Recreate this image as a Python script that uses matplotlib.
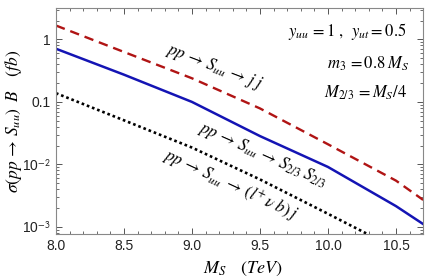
# Сечение рождения S_uu в зависимости от массы M_S
# python plot.py

import math
import matplotlib
matplotlib.use("Agg")
import matplotlib.pyplot as plt
from matplotlib.ticker import FixedLocator, LogLocator, FuncFormatter, NullFormatter

# ------------------------------------------
# Данные (сняты с картинки на глаз)
# ------------------------------------------
ms_jj = [8.0, 8.5, 9.0, 9.5, 10.0, 10.5, 10.7]
sigma_jj = [1.67, 0.63, 0.239, 0.0787, 0.021, 0.0055, 0.0027]

ms_s23 = [8.0, 8.5, 9.0, 9.5, 10.0, 10.5, 10.7]
sigma_s23 = [0.71, 0.273, 0.100, 0.0284, 0.0091, 0.00215, 0.00111]

ms_lvb = [8.0, 8.5, 9.0, 9.5, 10.0, 10.3]
sigma_lvb = [0.138, 0.0508, 0.0186, 0.00575, 0.00162, 0.00075]

x_ticks = [8.0, 8.5, 9.0, 9.5, 10.0, 10.5]
y_ticks = [1e-3, 1e-2, 0.1, 1]

plt.rcParams["mathtext.fontset"] = "stix"
plt.rcParams["font.family"] = ["Liberation Sans", "DejaVu Sans"]


def fmt_y(v, pos):
    if v >= 0.1:
        return "%g" % v
    exp = int(round(math.log10(v)))
    return "10$^{\\mathsf{%d}}$" % exp


def main():
    fig = plt.figure(figsize=(4.27, 2.80), dpi=100)
    ax = fig.add_axes([0.131, 0.164, 0.860, 0.807])

    ax.plot(ms_jj, sigma_jj, color="#b01414", lw=1.7, ls=(0, (4, 2.5)))
    ax.plot(ms_s23, sigma_s23, color="#1414b4", lw=1.8)
    ax.plot(ms_lvb, sigma_lvb, color="black", lw=1.9, ls=(0, (1, 1.1)))

    ax.set_yscale("log")
    ax.set_xlim(8.0, 10.7)
    ax.set_ylim(7.67e-4, 3.17)

    # оси в стиле Mathematica
    ax.xaxis.set_major_locator(FixedLocator(x_ticks))
    ax.xaxis.set_minor_locator(FixedLocator([8 + 0.1 * i for i in range(28)]))
    ax.yaxis.set_major_locator(FixedLocator(y_ticks))
    ax.yaxis.set_minor_locator(LogLocator(base=10, subs=range(2, 10)))
    ax.yaxis.set_major_formatter(FuncFormatter(fmt_y))
    ax.yaxis.set_minor_formatter(NullFormatter())
    ax.xaxis.set_major_formatter(FuncFormatter(lambda v, p: "%.1f" % v))
    ax.tick_params(which="both", direction="in", top=True, right=True,
                   color="#555555", labelsize=10, labelcolor="#222222")
    ax.tick_params(which="major", length=4, width=0.7)
    ax.tick_params(which="minor", length=2, width=0.6)
    for s in ax.spines.values():
        s.set_color("#888888")
        s.set_linewidth(0.8)

    ax.set_xlabel(r"$M_S\quad\,(TeV)$", fontsize=13)
    ax.xaxis.set_label_coords(0.51, -0.115)
    ax.set_ylabel(r"$\sigma(pp\,\rightarrow\,S_{uu})\;\;B\quad\,(fb)$", fontsize=12.5)
    ax.yaxis.set_label_coords(-0.088, 0.5)

    # подписи кривых
    ax.text(9.16, 0.37, r"$pp\,\rightarrow\,S_{uu}\,\rightarrow\,j\;j$", fontsize=12,
            rotation=-21, ha="center", va="center")
    ax.text(9.52, 0.0141, r"$pp\,\rightarrow\,S_{uu}\,\rightarrow\,S_{2/3}\;S_{2/3}$", fontsize=12,
            rotation=-24, ha="center", va="center")
    ax.text(9.28, 0.0046, r"$pp\,\rightarrow\,S_{uu}\;\rightarrow\,(l^{+}\,\nu\;b)\;j$", fontsize=12,
            rotation=-25, ha="center", va="center")

    # параметры
    ax.text(0.955, 0.895, r"$y_{uu}\,=1\;,\;\;y_{ut}=0.5$", transform=ax.transAxes,
            fontsize=12, ha="right", va="center")
    ax.text(0.962, 0.755, r"$m_3\,=0.8\;M_S$", transform=ax.transAxes,
            fontsize=12, ha="right", va="center")
    ax.text(0.955, 0.625, r"$M_{2/3}\,=M_S/4$", transform=ax.transAxes,
            fontsize=12, ha="right", va="center")

    fig.savefig("out.png", dpi=100)


if __name__ == "__main__":
    main()
